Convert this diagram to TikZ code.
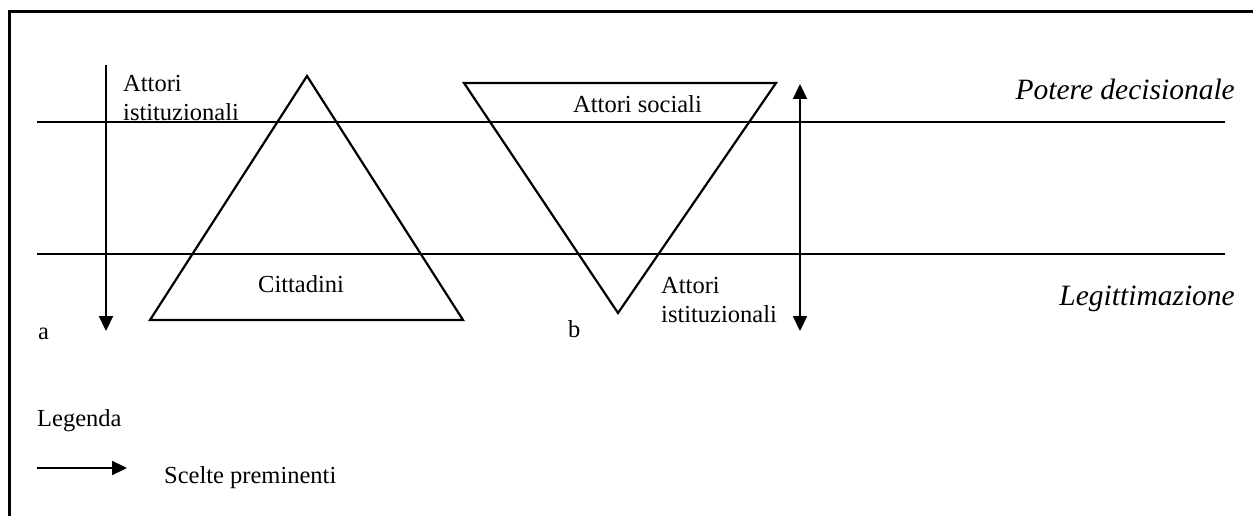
\documentclass[tikz,border=0pt]{standalone}
\usepackage{fontspec}
\setmainfont{Liberation Serif}
\usetikzlibrary{arrows.meta}
\begin{document}
\begin{tikzpicture}[x=1pt,y=-1pt,
  ln/.style={line width=2.2pt},
  arr/.style={ln,-{Triangle[length=15pt,width=14pt]}},
  darr/.style={ln,{Triangle[length=15pt,width=14pt]}-{Triangle[length=15pt,width=14pt]}},
  txt/.style={inner sep=0pt,anchor=base west,font=\fontsize{24.5}{29}\selectfont},
  ttl/.style={inner sep=0pt,anchor=base east,font=\fontsize{29.5}{33}\selectfont\itshape}]
\useasboundingbox (0,0) rectangle (1253,516);
% frame (top and left edges)
\coordinate (fa) at (9,516);
\coordinate (fb) at (9,12);
\coordinate (fc) at (1253,12);
\draw[line width=3pt] (fa) -- (fb) -- (fc);
% horizontal levels
\coordinate (h1a) at (37,122); \coordinate (h1b) at (1225,122);
\coordinate (h2a) at (37,254); \coordinate (h2b) at (1225,254);
\draw[ln] (h1a) -- (h1b);
\draw[ln] (h2a) -- (h2b);
% triangle up
\coordinate (ua) at (307,76); \coordinate (ul) at (150,320); \coordinate (ur) at (463,320);
\draw[ln] (ua) -- (ur) -- (ul) -- cycle;
% triangle down
\coordinate (dl) at (464,83); \coordinate (dr) at (776,83); \coordinate (da) at (618,313);
\draw[ln] (dl) -- (dr) -- (da) -- cycle;
% arrows
\coordinate (a1s) at (106,65); \coordinate (a1e) at (106,331);
\draw[arr] (a1s) -- (a1e);
\coordinate (a2s) at (800,84); \coordinate (a2e) at (800,331);
\draw[darr] (a2s) -- (a2e);
\coordinate (lgs) at (37,468); \coordinate (lge) at (127,468);
\draw[arr] (lgs) -- (lge);
% texts
\node[txt] (t1) at (123,92) {Attori};
\node[txt] (t2) at (123,121) {istituzionali};
\node[txt] (t3) at (573,113) {Attori sociali};
\node[txt] (t4) at (258,292) {Cittadini};
\node[txt] (t5) at (661,293) {Attori};
\node[txt] (t6) at (661,322) {istituzionali};
\node[txt] (ta) at (38,339) {a};
\node[txt] (tb) at (568,337) {b};
\node[txt] (tl) at (37,426) {Legenda};
\node[txt] (ts) at (164,483) {Scelte preminenti};
\node[ttl] (p1) at (1235,100) {Potere decisionale};
\node[ttl] (p2) at (1235,305) {Legittimazione};
\end{tikzpicture}
\end{document}
